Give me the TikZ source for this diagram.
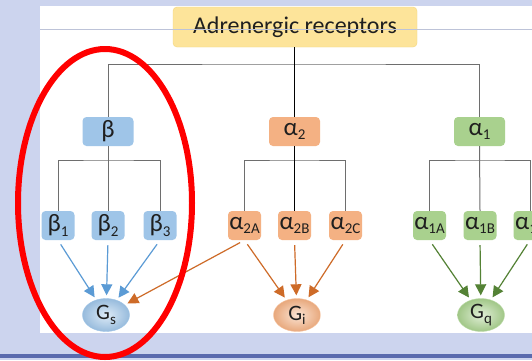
\documentclass[tikz,border=0pt]{standalone}
\usepackage{fontspec}
\setmainfont{Carlito}
\usetikzlibrary{arrows.meta,shapes.geometric}
\definecolor{bgblue}{HTML}{CCD4EE}
\definecolor{bgline}{HTML}{5A6AAE}
\definecolor{titlefill}{HTML}{FDE49A}
\definecolor{titledraw}{HTML}{F3D77E}
\definecolor{bfill}{HTML}{9FC5E8}
\definecolor{ofill}{HTML}{F4B183}
\definecolor{gfill}{HTML}{A9D18E}
\definecolor{barr}{HTML}{5B9BD5}
\definecolor{oarr}{HTML}{C55A11}
\definecolor{garr}{HTML}{548235}
\definecolor{treeline}{HTML}{6E6E6E}
\definecolor{txt}{HTML}{1F1F1F}
\newcommand\subtxt[1]{\raisebox{-0.4ex}{\fontsize{15}{15}\selectfont #1}}
\tikzset{
  rbox/.style={rounded corners=4pt, minimum height=29pt, inner sep=0pt, text=txt,
    font=\fontsize{25}{28}\selectfont},
  bigbox/.style={rbox, minimum width=51pt},
  smallbox/.style={rbox, minimum width=33pt},
  gnode/.style={ellipse, minimum width=47pt, minimum height=33pt, inner sep=0pt,
    text=txt, font=\fontsize{22}{25}\selectfont},
  tree/.style={draw=treeline, line width=1pt},
  arr/.style={line width=1.2pt, shorten <=5pt, shorten >=3pt,
    -{Triangle[length=11pt,width=11pt]}},
}
\begin{document}
\begin{tikzpicture}[x=1pt,y=-1pt]
\useasboundingbox (0,0) rectangle (532,360);
% background
\fill[bgblue] (0,0) rectangle (532,360);
\fill[bgline] (0,354) rectangle (532,358);
\fill[white] (40,6) rectangle (532,333);
% title
\node[rbox, draw=titledraw, fill=titlefill, minimum width=244pt, minimum height=40pt,
  font=\fontsize{24}{28}\selectfont] (title) at (295,27) {Adrenergic receptors};
\draw[color=bgblue!80!gray, line width=0.6pt] (40,29) -- (532,29);
% level 1
\node[bigbox, fill=bfill] (beta) at (108,131.5) {β};
\node[bigbox, fill=ofill] (a2) at (294.5,131.5) {α\subtxt{2}};
\node[bigbox, fill=gfill] (a1) at (479.5,131.5) {α\subtxt{1}};
% level 2
\node[smallbox, fill=bfill] (b1) at (58,225.5) {β\subtxt{1}};
\node[smallbox, fill=bfill] (b2) at (108,225.5) {β\subtxt{2}};
\node[smallbox, fill=bfill] (b3) at (160,225.5) {β\subtxt{3}};
\node[smallbox, fill=ofill] (a2A) at (244.5,225.5) {α\subtxt{2A}};
\node[smallbox, fill=ofill] (a2B) at (294.5,225.5) {α\subtxt{2B}};
\node[smallbox, fill=ofill] (a2C) at (345.5,225.5) {α\subtxt{2C}};
\node[smallbox, fill=gfill] (a1A) at (429.5,225.5) {α\subtxt{1A}};
\node[smallbox, fill=gfill] (a1B) at (480,225.5) {α\subtxt{1B}};
\node[smallbox, fill=gfill] (a1C) at (530,225.5) {α\subtxt{1C}};
% G proteins
\node[gnode, draw=barr!60, inner color=bfill!35, outer color=bfill!95!black] (Gs) at (106,315) {G\subtxt{s}};
\node[gnode, draw=ofill!80, inner color=ofill!35, outer color=ofill!95!black] (Gi) at (297,315) {G\subtxt{i}};
\node[gnode, draw=gfill!80, inner color=gfill!35, outer color=gfill!95!black] (Gq) at (481,315) {G\subtxt{q}};
% tree lines
\coordinate (tbar) at (294,64);
\coordinate (bbar) at (108,160);
\coordinate (obar) at (294,160);
\coordinate (gbar) at (480,160);
\draw[tree] (beta.north) |- (tbar) -| (a1.north);
\draw[black, line width=1pt] (title.south -| a2.north) -- (a2.north);
\draw[tree] (b1.north) |- (bbar) -| (b3.north);
\draw[tree] (beta.south) -- (b2.north);
\draw[tree] (a2A.north) |- (obar) -| (a2C.north);
\draw[black, line width=1pt] (a2.south) -- (a2B.north);
\draw[tree] (a1A.north) |- (gbar) -| (a1C.north);
\draw[tree] (a1.south) -- (a1B.north);
% arrows
\draw[arr, barr] (b1.south) -- (Gs);
\draw[arr, barr] (b2.south) -- (Gs);
\draw[arr, barr] (b3.south) -- (Gs);
\draw[arr, oarr!80!ofill] (a2A.south) -- (Gs);
\draw[arr, oarr!80!ofill] (a2A.south) -- (Gi);
\draw[arr, oarr!80!ofill] (a2B.south) -- (Gi);
\draw[arr, oarr!80!ofill] (a2C.south) -- (Gi);
\draw[arr, garr] (a1A.south) -- (Gq);
\draw[arr, garr] (a1B.south) -- (Gq);
\draw[arr, garr] (a1C.south) -- (Gq);
% red ellipse
\draw[red, line width=6pt] (105,203) ellipse [x radius=87pt, y radius=154pt];
\end{tikzpicture}
\end{document}
